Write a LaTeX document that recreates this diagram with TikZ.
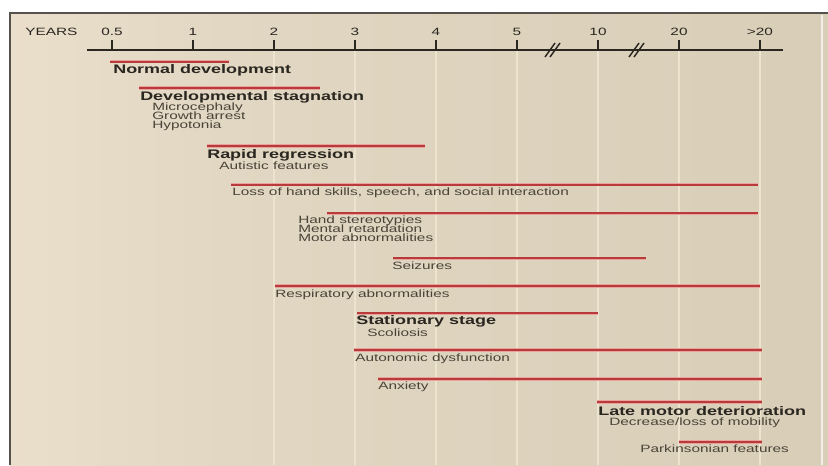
\documentclass[tikz,border=0pt]{standalone}
\usepackage{fontspec}
\usepackage{xcolor}
\setmainfont{Liberation Sans}[FakeStretch=1.45]
\definecolor{creamL}{HTML}{FCEEDC}
\definecolor{tanM}{HTML}{E1D7C2}
\definecolor{tanR}{HTML}{D3C8B1}
\definecolor{barred}{HTML}{B83A3A}
\definecolor{barpink}{HTML}{E9A29C}
\definecolor{inkdark}{HTML}{2A2620}
\definecolor{inksub}{HTML}{4A4438}
\definecolor{gridcol}{HTML}{EDE4D0}
\pgfdeclarehorizontalshading{bgshade}{100bp}{color(0bp)=(creamL); color(38bp)=(tanM); color(100bp)=(tanR)}

\begin{document}
\begin{tikzpicture}[x=0.75pt,y=-0.75pt]
            \tikzset{head/.style = {font=\fontsize{9.3}{11}\selectfont\bfseries, text=inkdark, inner sep=0pt, anchor=base west}}
            \tikzset{sub/.style = {font=\fontsize{7.95}{9}\selectfont, text=inksub, inner sep=0pt, anchor=base west}}
            \tikzset{bar/.style = {draw=barred, line width=1.5pt, preaction={draw=barpink, line width=2.6pt}}}
            \tikzset{axis/.style = {draw=inkdark, line width=1.5pt}}

            \useasboundingbox (0,0) rectangle (828,465);

            % panel
            \shade[shading=bgshade] (10,13) rectangle (828,465);
            \draw[draw=inkdark!80, line width=1.5pt] (10,465) -- (10,13) -- (828,13);
            \draw[draw=white!70!tanR, line width=0.8pt] (822,15) -- (822,465);

            % grid lines
            \foreach \x in {274,355,436,517,598,679,760}
            {
              \draw[draw=gridcol, line width=1.3pt] (\x,51) -- (\x,465);
            }

            % axis
            \coordinate (a0) at (87,50);
            \coordinate (a1) at (783,50);
            \draw[axis] (a0) -- (a1);
            \node[sub, text=inkdark, anchor=base west] (years) at (25,35.5) {YEARS};
            \foreach \x/\t [count=\i] in {112/0.5,193/1,274/2,355/3,436/4,517/5,598/10,679/20,760/{>20}}
            {
              \draw[axis] (\x,40) -- (\x,50);
              \node[sub, text=inkdark, anchor=base] (t\i) at (\x,35.5) {\t};
            }
            \foreach \x in {553,637}
            {
              \draw[draw=inkdark, line width=1.1pt] (\x-8,57) -- (\x+2,43);
              \draw[draw=inkdark, line width=1.1pt] (\x-3,57) -- (\x+7,43);
            }

            % bars
            \foreach \a/\b/\y in {110/229/61.5, 139/320/88, 207/425/146, 231/758/184.7, 327/758/213.3,
                                  393/646/258.3, 275/760/286, 357/598/313.3, 354/762/350, 378/762/379,
                                  597/762/402, 679/762/442}
            {
              \draw[bar] (\a,\y) -- (\b,\y);
            }

            % labels
            \node[head] (normal) at (113,73) {Normal development};
            \node[head] (stagn) at (140,100) {Developmental stagnation};
            \node[sub] (micro) at (152,110.5) {Microcephaly};
            \node[sub] (growth) at (152,119.5) {Growth arrest};
            \node[sub] (hypo) at (152,128.5) {Hypotonia};
            \node[head] (rapid) at (207,158.8) {Rapid regression};
            \node[sub] (autis) at (219,169.5) {Autistic features};
            \node[sub] (loss) at (232,195.3) {Loss of hand skills, speech, and social interaction};
            \node[sub] (hand) at (298,223.3) {Hand stereotypies};
            \node[sub] (mental) at (298,232.5) {Mental retardation};
            \node[sub] (motor) at (298,241.7) {Motor abnormalities};
            \node[sub] (seiz) at (392,269) {Seizures};
            \node[sub] (resp) at (275,297.3) {Respiratory abnormalities};
            \node[head] (stat) at (356,324.6) {Stationary stage};
            \node[sub] (scol) at (367,336) {Scoliosis};
            \node[sub] (auton) at (355,361) {Autonomic dysfunction};
            \node[sub] (anx) at (378,389.3) {Anxiety};
            \node[head] (late) at (598,415) {Late motor deterioration};
            \node[sub] (decr) at (609,425.7) {Decrease/loss of mobility};
            \node[sub] (park) at (640,452.7) {Parkinsonian features};

          \end{tikzpicture}
\end{document}
